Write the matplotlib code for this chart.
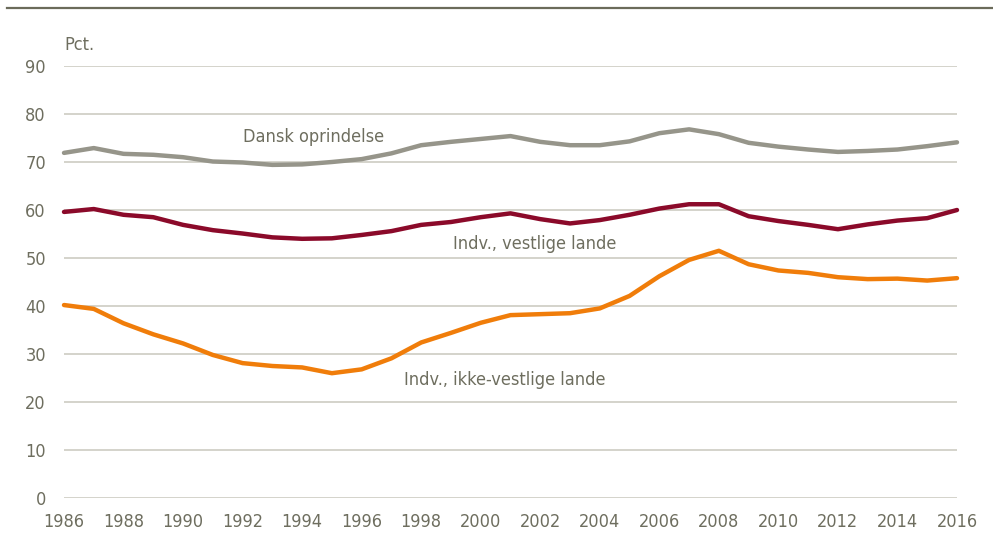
import matplotlib.pyplot as plt
import numpy as np
from matplotlib.lines import Line2D

years = np.arange(1986, 2017)
dansk = [71.9, 72.9, 71.7, 71.5, 71.0, 70.1, 69.9, 69.4, 69.5, 70.0, 70.6, 71.8,
         73.5, 74.2, 74.8, 75.4, 74.2, 73.5, 73.5, 74.3, 76.0, 76.8, 75.8, 74.0,
         73.2, 72.6, 72.1, 72.3, 72.6, 73.3, 74.1]
vestlige = [59.6, 60.2, 59.0, 58.5, 56.9, 55.8, 55.1, 54.3, 54.0, 54.1, 54.8, 55.6,
            56.9, 57.5, 58.5, 59.3, 58.1, 57.2, 57.9, 59.0, 60.3, 61.2, 61.2, 58.7,
            57.7, 56.9, 56.0, 57.0, 57.8, 58.3, 60.0]
ikke_vestlige = [40.2, 39.4, 36.4, 34.1, 32.2, 29.8, 28.1, 27.5, 27.2, 26.0, 26.8, 29.1,
                 32.4, 34.4, 36.5, 38.1, 38.3, 38.5, 39.5, 42.1, 46.2, 49.6, 51.5, 48.7,
                 47.4, 46.9, 46.0, 45.6, 45.7, 45.3, 45.8]
xticks = list(range(1986, 2017, 2))
yticks = list(range(0, 91, 10))

txt = '#6e6e5f'
plt.rcParams['font.family'] = ['DejaVu Sans']
plt.rcParams['font.stretch'] = 'condensed'

fig = plt.figure(figsize=(9.93, 5.39), dpi=100)
ax = fig.add_axes([64/993, 1-498/539, (957-64)/993, (498-66)/539])

# top rule
fig.add_artist(Line2D([7/993, 1], [1-8/539, 1-8/539], color='#6b6b5a', lw=1.6))

for v in yticks:
    ax.axhline(v, color='#c9c8bd', lw=1.1, zorder=1)

ax.plot(years, dansk, color='#96958a', lw=3.2, clip_on=False, solid_capstyle='round', zorder=3)
ax.plot(years, vestlige, color='#8b0a2a', lw=3.2, clip_on=False, solid_capstyle='round', zorder=3)
ax.plot(years, ikke_vestlige, color='#f07d0a', lw=3.2, clip_on=False, solid_capstyle='round', zorder=3)

ax.set_xlim(1986, 2016)
ax.set_ylim(0, 90)
ax.set_xticks(xticks)
ax.set_yticks(yticks)
ax.tick_params(length=0, labelsize=13, colors=txt)
ax.tick_params(axis='x', pad=11)
ax.tick_params(axis='y', pad=13)
for s in ax.spines.values():
    s.set_visible(False)

ax.text(1986, 92.6, 'Pct.', color=txt, fontsize=13, ha='left', va='bottom')
ax.text(1994.4, 75.3, 'Dansk oprindelse', color=txt, fontsize=13, ha='center', va='center')
ax.text(2001.8, 52.9, 'Indv., vestlige lande', color=txt, fontsize=13, ha='center', va='center')
ax.text(2000.8, 24.6, 'Indv., ikke-vestlige lande', color=txt, fontsize=13, ha='center', va='center')

fig.savefig('out.png', dpi=100)
